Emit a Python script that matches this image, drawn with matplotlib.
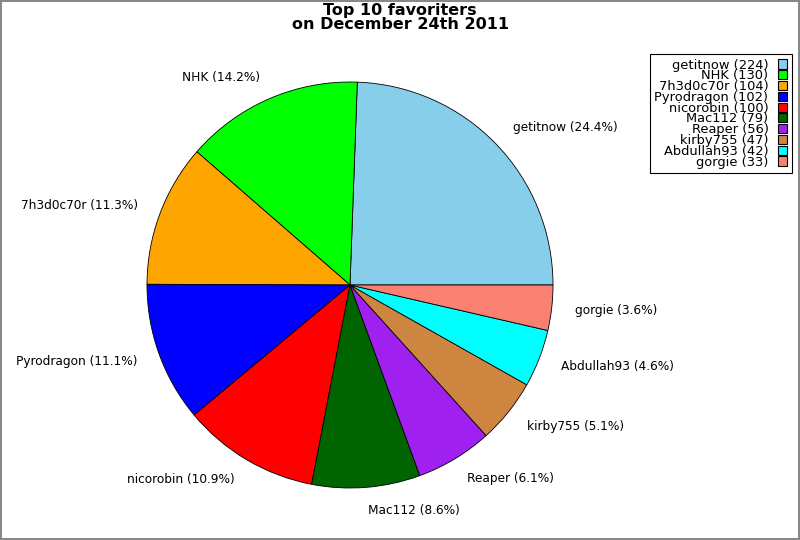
import matplotlib
matplotlib.use("Agg")
import matplotlib.pyplot as plt
from matplotlib.patches import Patch

names = ["getitnow", "NHK", "7h3d0c70r", "Pyrodragon", "nicorobin",
         "Mac112", "Reaper", "kirby755", "Abdullah93", "gorgie"]
values = [224, 130, 104, 102, 100, 79, 56, 47, 42, 33]
colors = ["#87CEEB", "#00FF00", "#FFA500", "#0000FF", "#FF0000",
          "#006400", "#A020F0", "#CD853F", "#00FFFF", "#FA8072"]
title = "Top 10 favoriters\non December 24th 2011"

total = sum(values)
pie_labels = [f"{n} ({v / total * 100:.1f}%)" for n, v in zip(names, values)]
legend_labels = [f"{n} ({v})" for n, v in zip(names, values)]

fig = plt.figure(figsize=(8, 5.4), dpi=100, edgecolor="#888888", linewidth=1.5)
ax = fig.add_axes([147 / 800, (540 - 488) / 540, 406 / 800, 406 / 540])
ax.pie(values, labels=pie_labels, colors=colors, startangle=0,
       counterclock=True, labeldistance=1.115,
       wedgeprops=dict(edgecolor="black", linewidth=0.6),
       textprops=dict(fontsize=8.7))
ax.set_aspect("equal")
ax.set_xlim(-1, 1)
ax.set_ylim(-1, 1)

fig.text(0.5, 0.995, title, ha="center", va="top", fontsize=11.5,
         fontweight="bold", linespacing=0.95)

handles = [Patch(facecolor=c, edgecolor="black", linewidth=0.8) for c in colors]
leg = fig.legend(handles, legend_labels, loc="upper right",
                 bbox_to_anchor=(792 / 800, 1 - 54 / 540),
                 markerfirst=False, fontsize=9.4, frameon=True, fancybox=False,
                 edgecolor="black", framealpha=1, labelspacing=-0.17,
                 handlelength=0.7, handleheight=0.7, handletextpad=0.75,
                 borderpad=0.35, borderaxespad=0)
leg.get_frame().set_linewidth(0.8)
for t in leg.get_texts():
    t.set_ha("right")

fig.savefig("out.png", dpi=100, edgecolor=fig.get_edgecolor())
